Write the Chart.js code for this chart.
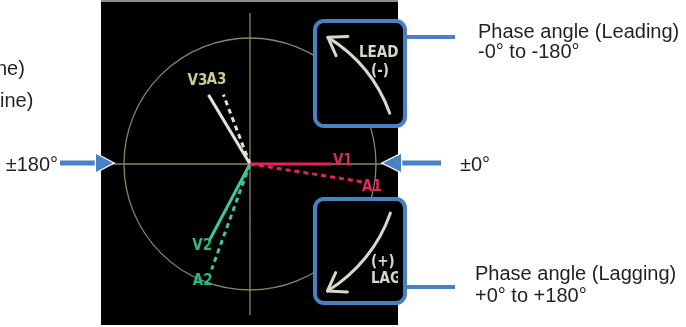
<!DOCTYPE html>
<html>
<head>
<meta charset="utf-8">
<script src="https://cdn.jsdelivr.net/npm/chart.js@4"></script>
<style>
  html, body { margin: 0; padding: 0; background: #fff; }
  #phasorChart { display: block; }
</style>
</head>
<body>
<canvas id="phasorChart" width="686" height="327"></canvas>
<script>
// Phasor readings: magnitude in % of the full-scale circle, angle in degrees (+ = lagging)
const phasorNames = ["V1", "A1", "V2", "A2", "V3", "A3"];
const magnitudes = [65, 90, 69, 89, 64, 59];
const angles = [0, 9, 118, 110, -121, -111];
const phaseOf = [1, 1, 2, 2, 3, 3];
const fullScale = 100;

// Texts round the display
const rangeLabels = ["±180°", "±0°"];
const leadingText = ["Phase angle (Leading)", "-0° to -180°"];
const laggingText = ["Phase angle (Lagging)", "+0° to +180°"];
const legendText = ["ne)", "ine)"];
const leadTag = ["LEAD", "(-)"];
const lagTag = ["(+)", "LAG"];

const lineColors = { 1: "#e8205c", 2: "#3cc89e", 3: "#e2e2da" };
const textColors = { 1: "#e8245c", 2: "#2cba7c", 3: "#cbcb8c" };
const BLUE = "#4a80c4";
const GRID = "#8a8660";
const SCREEN_FONT = "bold 15px 'DejaVu Sans Condensed', 'Liberation Sans Narrow', 'DejaVu Sans'";

const datasets = phasorNames.map((name, i) => {
    const a = angles[i] * Math.PI / 180;
    return {
        label: name,
        data: [{ x: 0, y: 0 }, { x: magnitudes[i] * Math.cos(a), y: -magnitudes[i] * Math.sin(a) }],
        showLine: true,
        borderColor: lineColors[phaseOf[i]],
        borderWidth: 3,
        borderDash: name[0] === "A" ? [5, 4] : [],
        pointRadius: 0
    };
});

// label offsets from the tip of each phasor (pixels) and alignment
const labelOffsets = {
    V1: [1, -3, "left"], A1: [0, 5, "left"],
    V2: [3, 5, "right"], A2: [1, 12, "right"],
    V3: [-11, -14, "center"], A3: [-7, -14, "center"]
};

function roundBox(ctx, x, y, w, h, r) {
    ctx.beginPath();
    ctx.roundRect(x, y, w, h, r);
    ctx.fillStyle = "#000";
    ctx.fill();
    ctx.lineWidth = 4;
    ctx.strokeStyle = BLUE;
    ctx.stroke();
}

// curved arrow on a circle round the centre, head at angle a1
function arcArrow(ctx, cx, cy, rad, a0, a1) {
    const ccw = a1 < a0;
    ctx.strokeStyle = "#d8d8c8";
    ctx.lineWidth = 3;
    ctx.lineCap = "round";
    ctx.beginPath();
    ctx.arc(cx, cy, rad, a0, a1, ccw);
    ctx.stroke();
    const tx = cx + rad * Math.cos(a1), ty = cy + rad * Math.sin(a1);
    const mx = ccw ? Math.sin(a1) : -Math.sin(a1);
    const my = ccw ? -Math.cos(a1) : Math.cos(a1);
    const back = Math.atan2(-my, -mx);
    ctx.beginPath();
    [0.6, -0.6].forEach(d => {
        ctx.moveTo(tx, ty);
        ctx.lineTo(tx + 20 * Math.cos(back + d), ty + 20 * Math.sin(back + d));
    });
    ctx.stroke();
    ctx.lineCap = "butt";
}

function blueArrow(ctx, x0, x1, tip, y) {
    ctx.strokeStyle = BLUE;
    ctx.lineWidth = 5;
    ctx.beginPath();
    ctx.moveTo(x0, y);
    ctx.lineTo(x1, y);
    ctx.stroke();
    ctx.beginPath();
    ctx.moveTo(tip, y);
    ctx.lineTo(x1, y - 9);
    ctx.lineTo(x1, y + 9);
    ctx.closePath();
    ctx.lineWidth = 2.5;
    ctx.strokeStyle = "#fff";
    ctx.stroke();
    ctx.fillStyle = BLUE;
    ctx.fill();
}

const displayPlugin = {
    id: "phasorDisplay",
    beforeDatasetsDraw(chart) {
        const { ctx, scales: { x, y } } = chart;
        const cx = x.getPixelForValue(0), cy = y.getPixelForValue(0);
        const r = x.getPixelForValue(fullScale) - cx;
        ctx.save();
        ctx.fillStyle = "#8c8c8c";
        ctx.fillRect(101, 0, 297, 2);
        ctx.fillStyle = "#000";
        ctx.fillRect(101, 2, 297, 323);

        ctx.strokeStyle = GRID;
        ctx.lineWidth = 1.3;
        ctx.beginPath();
        ctx.moveTo(101, cy); ctx.lineTo(398, cy);
        ctx.moveTo(cx, 13); ctx.lineTo(cx, 315);
        ctx.stroke();
        ctx.beginPath();
        ctx.arc(cx, cy, r, 0, Math.PI * 2);
        ctx.stroke();

        roundBox(ctx, 315, 21, 90, 105, 9);
        roundBox(ctx, 315, 199, 90, 104, 9);

        ctx.save();
        ctx.beginPath();
        ctx.rect(317, 23, 81, 278);
        ctx.clip();
        const rad = r * 1.18;
        arcArrow(ctx, cx, cy, rad, -20 * Math.PI / 180, -58.4 * Math.PI / 180);
        arcArrow(ctx, cx, cy, rad, 19.3 * Math.PI / 180, 58.6 * Math.PI / 180);
        ctx.fillStyle = "#d8d8c8";
        ctx.font = SCREEN_FONT;
        ctx.textAlign = "left";
        ctx.textBaseline = "alphabetic";
        ctx.fillText(leadTag[0], 359, 57);
        ctx.fillText(leadTag[1], 371, 75);
        ctx.fillText(lagTag[0], 371, 266);
        ctx.fillText(lagTag[1], 371, 283);
        ctx.restore();
        ctx.restore();
    },
    afterDatasetsDraw(chart) {
        const { ctx, scales: { x, y } } = chart;
        const cy = y.getPixelForValue(0);
        ctx.save();
        ctx.font = SCREEN_FONT;
        ctx.textBaseline = "middle";
        chart.data.datasets.forEach((ds, i) => {
            const tip = ds.data[1];
            const [ox, oy, align] = labelOffsets[ds.label];
            ctx.fillStyle = textColors[phaseOf[i]];
            ctx.textAlign = align;
            ctx.fillText(ds.label, x.getPixelForValue(tip.x) + ox, y.getPixelForValue(tip.y) + oy);
        });

        // connectors from the LEAD / LAG boxes
        ctx.strokeStyle = BLUE;
        ctx.lineWidth = 4;
        ctx.beginPath();
        ctx.moveTo(405, 37); ctx.lineTo(455, 37);
        ctx.moveTo(405, 287); ctx.lineTo(455, 287);
        ctx.stroke();

        blueArrow(ctx, 60, 96, 113, cy - 1);
        blueArrow(ctx, 441, 401, 383, cy - 1);

        ctx.fillStyle = "#231f20";
        ctx.font = "20px 'Liberation Sans', Arial, sans-serif";
        ctx.textBaseline = "alphabetic";
        ctx.textAlign = "right";
        ctx.fillText(rangeLabels[0], 58, cy + 7);
        ctx.textAlign = "left";
        ctx.fillText(rangeLabels[1], 460, cy + 7);
        ctx.fillText(leadingText[0], 478, 38);
        ctx.fillText(leadingText[1], 478, 58);
        ctx.fillText(laggingText[0], 475, 280);
        ctx.fillText(laggingText[1], 475, 302);
        ctx.fillText(legendText[0], -4, 75);
        ctx.fillText(legendText[1], 0, 107);
        ctx.restore();
    }
};

const pxPerUnit = 1.26;
new Chart(document.getElementById("phasorChart"), {
    type: "scatter",
    data: { datasets },
    options: {
        responsive: false,
        animation: false,
        events: [],
        layout: { padding: 0 },
        plugins: { legend: { display: false }, tooltip: { enabled: false } },
        scales: {
            x: { display: false, min: -250 / pxPerUnit, max: 436 / pxPerUnit },
            y: { display: false, min: -163 / pxPerUnit, max: 164 / pxPerUnit }
        }
    },
    plugins: [displayPlugin]
});
</script>
</body>
</html>
